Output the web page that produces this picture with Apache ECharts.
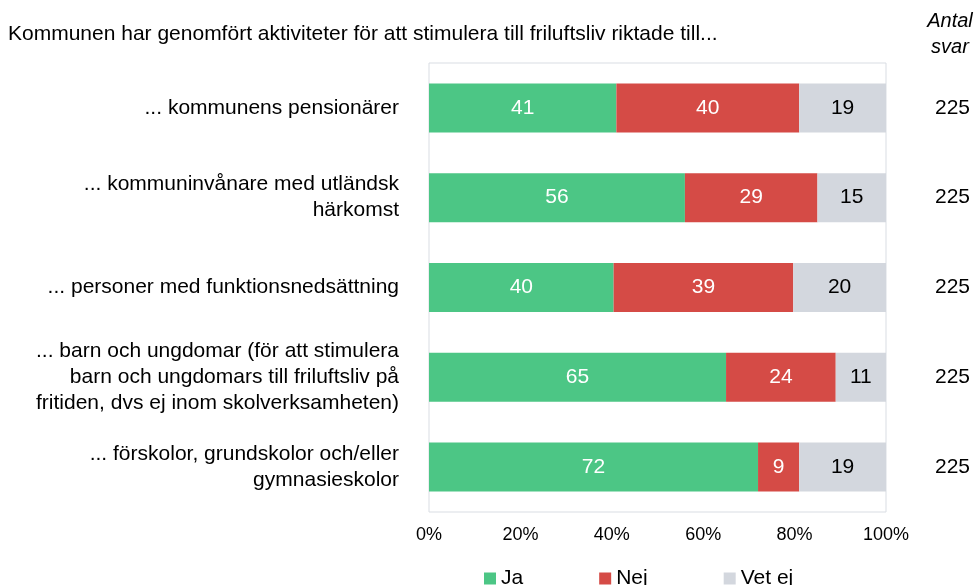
<!DOCTYPE html>
<html lang="sv">
<head>
    <meta charset="UTF-8">
    <title>Friluftsliv</title>
    <script src="https://cdn.jsdelivr.net/npm/echarts@6/dist/echarts.min.js"></script>
    <style>
        * { margin: 0; padding: 0; }
        body { background: #fff; }
        #chart { width: 979px; height: 585px; }
    </style>
</head>
<body>
    <div id="chart"></div>
    <script>
        const categories = [
            '... kommunens pensionärer',
            '... kommuninvånare med utländsk\nhärkomst',
            '... personer med funktionsnedsättning',
            '... barn och ungdomar (för att stimulera\nbarn och ungdomars till friluftsliv på\nfritiden, dvs ej inom skolverksamheten)',
            '... förskolor, grundskolor och/eller\ngymnasieskolor'
        ];
        // procent, labels visas avrundade
        const ja = [41, 56, 40.4, 65, 72];
        const nej = [40, 29, 39.3, 24, 9];
        const vetEj = [19, 15, 20.3, 11, 19];
        const antalSvar = [225, 225, 225, 225, 225];

        const font = '"Liberation Sans", Arial, sans-serif';
        const chart = echarts.init(document.getElementById('chart'));

        function barSeries(name, data, color, labelColor) {
            return {
                name: name,
                type: 'bar',
                stack: 'total',
                data: data,
                barWidth: 49,
                itemStyle: { color: color },
                label: {
                    show: true,
                    position: 'inside',
                    color: labelColor,
                    fontSize: 21,
                    fontFamily: font,
                    formatter: function (p) { return Math.round(p.value); }
                }
            };
        }

        chart.setOption({
            animation: false,
            textStyle: { fontFamily: font },
            grid: {
                left: 429, right: 93, top: 63, bottom: 73,
                show: true, borderColor: '#d9dde3', borderWidth: 1
            },
            graphic: [
                {
                    type: 'text', left: 8, top: 24,
                    style: {
                        text: 'Kommunen har genomfört aktiviteter för att stimulera till friluftsliv riktade till...',
                        fill: '#000', font: '21px "Liberation Sans", Arial'
                    }
                },
                {
                    type: 'text', x: 950, y: 8,
                    style: {
                        text: 'Antal\nsvar', align: 'center', verticalAlign: 'top', lineHeight: 26,
                        fill: '#000', font: 'italic 20px "Liberation Sans", Arial'
                    }
                }
            ],
            legend: {
                data: ['Ja', 'Nej', 'Vet ej'],
                left: 479, top: 563,
                itemWidth: 12, itemHeight: 12, itemGap: 76,
                icon: 'rect',
                textStyle: { fontSize: 21, color: '#000', fontFamily: font }
            },
            xAxis: {
                type: 'value', min: 0, max: 100, interval: 20,
                axisLabel: { formatter: '{value}%', fontSize: 18, color: '#000', margin: 14 },
                axisLine: { show: false }, axisTick: { show: false },
                splitLine: { show: false }
            },
            yAxis: [
                {
                    type: 'category', data: categories, inverse: true,
                    axisLabel: { fontSize: 21, color: '#000', lineHeight: 26, margin: 30, align: 'right' },
                    axisLine: { show: false }, axisTick: { show: false }
                },
                {
                    type: 'category', data: antalSvar, inverse: true, position: 'right',
                    axisLabel: { fontSize: 21, color: '#000', margin: 49 },
                    axisLine: { show: false }, axisTick: { show: false }
                }
            ],
            series: [
                barSeries('Ja', ja, '#4cc685', '#fff'),
                barSeries('Nej', nej, '#d54b46', '#fff'),
                barSeries('Vet ej', vetEj, '#d3d7de', '#000')
            ]
        });
    </script>
</body>
</html>
